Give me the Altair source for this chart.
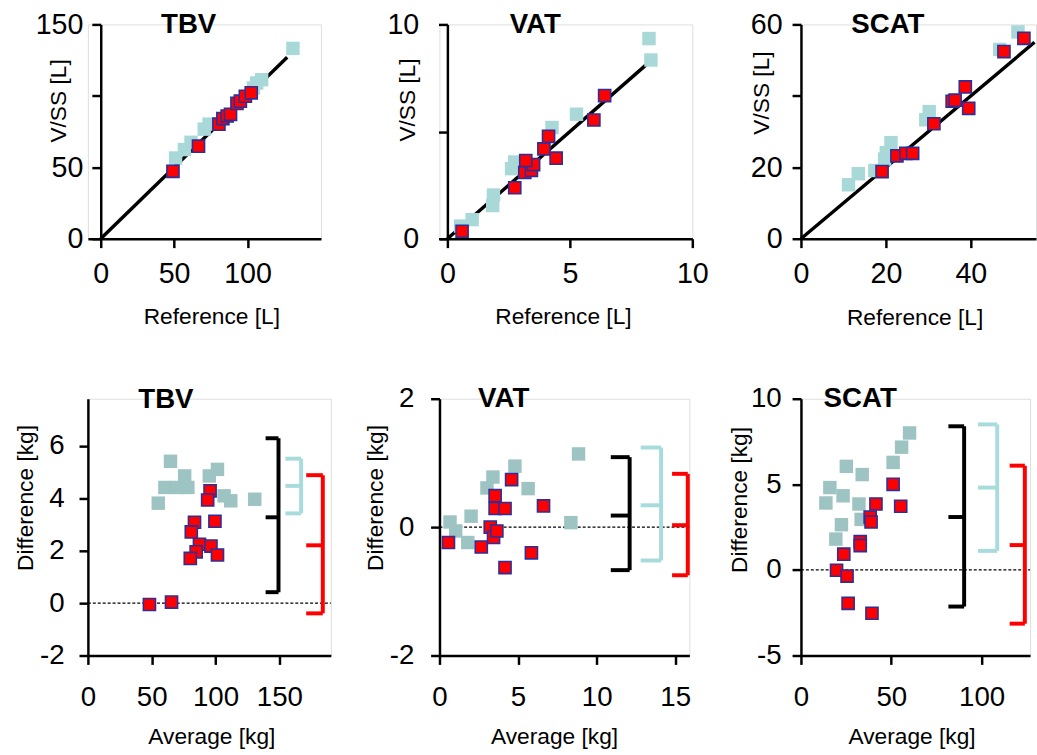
import altair as alt
import pandas as pd

FONT = "Liberation Sans"
LIGHT_TOP = "#A8D8D8"
LIGHT_BOT = "#9DC3C3"
BR_LIGHT = "#A8DCDC"
RED = "#FF0000"
EDGE = "#2E2E9A"

# ---------------- top row: VISS against reference volume [L] ----------------
tbv_ref_light = [51.0, 57.0, 61.5, 70.5, 73.8, 104.0, 106.2, 109.6, 130.9]
tbv_viss_light = [56.5, 62.4, 67.5, 76.7, 80.2, 105.5, 109.0, 111.3, 133.2]
tbv_ref_red = [49.2, 66.6, 80.5, 83.2, 86.1, 88.4, 92.8, 95.1, 98.5, 102.5]
tbv_viss_red = [47.2, 64.8, 80.2, 84.1, 85.9, 87.1, 94.7, 96.3, 99.7, 102.1]

vat_ref_light = [0.54, 1.01, 1.85, 1.88, 2.62, 2.75, 4.27, 5.27, 8.31, 8.23]
vat_viss_light = [0.59, 0.89, 1.55, 2.04, 3.27, 3.58, 5.19, 5.81, 8.34, 9.34]
vat_ref_red = [0.60, 2.75, 3.16, 3.43, 3.52, 3.20, 4.44, 3.94, 4.13, 5.98, 6.42]
vat_viss_red = [0.35, 2.38, 3.09, 3.19, 3.46, 3.65, 3.76, 4.19, 4.78, 5.54, 6.68]

scat_ref_light = [11.2, 13.5, 17.4, 19.7, 20.1, 21.2, 29.4, 30.2, 46.8, 51.1]
scat_viss_light = [15.1, 18.2, 19.1, 22.3, 24.1, 26.9, 33.3, 35.6, 53.0, 57.9]
scat_ref_red = [19.1, 22.6, 24.7, 26.3, 31.3, 35.6, 36.3, 39.5, 38.7, 47.8, 52.5]
scat_viss_red = [18.8, 23.2, 23.9, 23.9, 32.2, 38.5, 38.8, 36.5, 42.5, 52.4, 56.1]

# end point of each identity line
identity_end = {"TBV": 127.0, "VAT": 8.1, "SCAT": 55.0}

# ---------------- bottom row: Bland-Altman difference against average [kg] ----------------
ba_tbv_avg_light = [55.1, 60.3, 64.7, 69.4, 75.8, 78.3, 95.1, 101.5, 106.7, 111.9, 130.7]
ba_tbv_diff_light = [3.82, 4.42, 5.42, 4.42, 4.86, 4.42, 4.86, 5.11, 4.10, 3.91, 3.97]
ba_tbv_avg_red = [48.2, 65.5, 95.7, 93.8, 83.5, 99.5, 81.0, 87.4, 96.4, 84.8, 101.5, 80.2]
ba_tbv_diff_red = [-0.05, 0.04, 4.29, 3.94, 3.09, 3.13, 2.72, 2.25, 2.18, 1.96, 1.84, 1.71]

ba_vat_avg_light = [0.67, 1.03, 1.80, 2.01, 3.02, 3.40, 4.80, 5.64, 8.36, 8.85]
ba_vat_diff_light = [0.08, -0.06, -0.24, 0.17, 0.61, 0.78, 0.95, 0.60, 0.07, 1.14]
ba_vat_avg_red = [0.57, 2.66, 3.23, 3.44, 3.65, 3.54, 3.54, 4.17, 4.59, 4.17, 5.85, 6.62]
ba_vat_diff_red = [-0.24, -0.31, 0.00, -0.16, -0.06, 0.49, 0.29, 0.29, 0.74, -0.63, -0.40, 0.33]

ba_scat_avg_light = [60.1, 55.7, 51.0, 25.1, 33.9, 16.0, 23.3, 13.8, 32.1, 33.3, 22.4, 19.3]
ba_scat_diff_light = [8.00, 7.17, 6.28, 6.05, 5.57, 4.81, 4.33, 3.91, 3.85, 2.95, 2.64, 1.80]
ba_scat_avg_red = [51.0, 55.2, 41.5, 38.3, 38.8, 32.8, 32.8, 23.7, 19.7, 25.5, 26.1, 39.3]
ba_scat_diff_red = [5.00, 3.72, 3.85, 3.09, 2.80, 1.65, 1.42, 0.92, -0.02, -0.36, -1.95, -2.53]

# limits of agreement per group: (lower, mean, upper)
loa = {
    "TBV": {"all": (0.42, 3.28, 6.30), "light": (3.43, 4.48, 5.52), "red": (-0.39, 2.21, 4.89)},
    "VAT": {"all": (-0.67, 0.18, 1.09), "light": (-0.52, 0.34, 1.24), "red": (-0.75, 0.03, 0.83)},
    "SCAT": {"all": (-2.14, 3.09, 8.39), "light": (1.11, 4.81, 8.50), "red": (-3.14, 1.45, 6.09)},
}
# horizontal placement of each bracket on the average axis: (cap start, spine)
loa_x = {
    "TBV": {"all": (139.2, 149.3), "light": (154.7, 167.0), "red": (171.0, 184.0)},
    "VAT": {"all": (10.9, 12.1), "light": (12.8, 14.1), "red": (14.8, 15.8)},
    "SCAT": {"all": (81.6, 90.3), "light": (98.0, 108.6), "red": (115.5, 123.9)},
}
BR_COLORS = {"all": "black", "light": BR_LIGHT, "red": RED}


def make_axis(ticks, hide=None, **kw):
    # plain hyphen for negative numbers
    expr = "'' + datum.value"
    if hide is not None:
        expr = f"datum.value == {hide} ? '' : '' + datum.value"
    return alt.Axis(
        values=ticks, grid=False, domainColor="black", domainWidth=2.5,
        tickColor="black", tickWidth=2.5, tickSize=9, labelColor="black",
        labelFont=FONT, labelFlush=False, labelOverlap=False, labelExpr=expr,
        titleFont=FONT, titleFontSize=23, titleFontWeight="normal", titleColor="black",
        titleAlign="center", titleBaseline="middle", **kw,
    )


def panel(cfg, light_x, light_y, red_x, red_y, light_color):
    xs = alt.Scale(domain=cfg["xdom"], nice=False, zero=False)
    ys = alt.Scale(domain=cfg["ydom"], nice=False, zero=False)
    xa = make_axis(cfg["xticks"], labelFontSize=cfg["fs"], labelPadding=cfg["xpad"],
                   titleX=cfg["xt"][0], titleY=cfg["xt"][1])
    ya = make_axis(cfg["yticks"], hide=cfg.get("hide"), labelFontSize=cfg["fs"],
                   labelPadding=cfg["ypad"], offset=cfg.get("yoff", 0),
                   titleX=cfg["yt"][0], titleY=cfg["yt"][1], titleAngle=270)

    def X(f):
        return alt.X(f, type="quantitative", scale=xs, axis=xa, title=cfg["xtitle"])

    def Y(f):
        return alt.Y(f, type="quantitative", scale=ys, axis=ya, title=cfg["ytitle"])

    layers = []
    layers += cfg["extra"](X, Y)
    light = pd.DataFrame({"x": light_x, "y": light_y})
    red = pd.DataFrame({"x": red_x, "y": red_y})
    layers.append(alt.Chart(light).mark_square(size=185, color=light_color, opacity=1)
                  .encode(x=X("x"), y=Y("y")))
    layers.append(alt.Chart(red).mark_square(size=150, color=RED, opacity=1,
                                             stroke=EDGE, strokeWidth=1.6)
                  .encode(x=X("x"), y=Y("y")))
    return alt.layer(*layers).properties(
        width=cfg["w"], height=cfg["h"],
        title=alt.TitleParams(cfg["title"], anchor="start", frame="group", align="center",
                              dx=cfg["tx"], dy=cfg["ty"], offset=0, baseline="alphabetic",
                              font=FONT, fontSize=28, fontWeight="bold", color="black"),
    )


def identity(name):
    def build(X, Y):
        d = pd.DataFrame({"x": [0.0], "y": [0.0], "x2": [identity_end[name]],
                          "y2": [identity_end[name]]})
        return [alt.Chart(d).mark_rule(color="black", strokeWidth=3.5)
                .encode(x=X("x"), y=Y("y"), x2="x2", y2="y2")]
    return build


def brackets(name, xmax):
    def build(X, Y):
        zero = pd.DataFrame({"x": [0.0], "x2": [xmax], "y": [0.0]})
        out = [alt.Chart(zero).mark_rule(color="black", strokeWidth=1.3, strokeDash=[3, 2])
               .encode(x=X("x"), x2="x2", y=Y("y"))]
        for grp, (lo, mid, hi) in loa[name].items():
            cap0, spine = loa_x[name][grp]
            col = BR_COLORS[grp]
            v = pd.DataFrame({"x": [spine], "y": [lo], "y2": [hi]})
            h = pd.DataFrame({"x": [cap0] * 3, "x2": [spine] * 3, "y": [lo, mid, hi]})
            out.append(alt.Chart(v).mark_rule(color=col, strokeWidth=4)
                       .encode(x=X("x"), y=Y("y"), y2="y2"))
            out.append(alt.Chart(h).mark_rule(color=col, strokeWidth=4)
                       .encode(x=X("x"), x2="x2", y=Y("y")))
        return out
    return build


top_common = dict(h=217, fs=29, xpad=12, xtitle="Reference [L]", ytitle="V/SS [L]")
bot_common = dict(h=260, fs=28, xpad=20, xtitle="Average [kg]", ytitle="Difference [kg]")

p1 = panel(dict(top_common, title="TBV", w=236, xdom=[-8.72, 150], ydom=[0, 150],
                xticks=[0, 50, 100], yticks=[0, 50, 100, 150], hide=100, yoff=-13,
                ypad=9, tx=102, ty=51, xt=(125, 79), yt=(-43, 77), extra=identity("TBV")),
           tbv_ref_light, tbv_viss_light, tbv_ref_red, tbv_viss_red, LIGHT_TOP)
p2 = panel(dict(top_common, title="VAT", w=256, xdom=[-0.3226, 10], ydom=[0, 10],
                xticks=[0, 5, 10], yticks=[0, 5, 10], hide=5, yoff=-8,
                ypad=20, tx=97, ty=51, xt=(125, 79), yt=(-40, 76), extra=identity("VAT")),
           vat_ref_light, vat_viss_light, vat_ref_red, vat_viss_red, LIGHT_TOP)
p3 = panel(dict(top_common, title="SCAT", w=238, xdom=[0, 55.35], ydom=[0, 60],
                xticks=[0, 20, 40], yticks=[0, 20, 40, 60], hide=40,
                ypad=10, tx=88, ty=51, xt=(115, 80), yt=(-40, 69), extra=identity("SCAT")),
           scat_ref_light, scat_viss_light, scat_ref_red, scat_viss_red, LIGHT_TOP)
p4 = panel(dict(bot_common, title="TBV", w=246, xdom=[0, 190.3], ydom=[-2, 7.81],
                xticks=[0, 50, 100, 150], yticks=[-2, 0, 2, 4, 6],
                ypad=15, tx=79, ty=37, xt=(125, 82), yt=(-63, 100), extra=brackets("TBV", 190.3)),
           ba_tbv_avg_light, ba_tbv_diff_light, ba_tbv_avg_red, ba_tbv_diff_red, LIGHT_BOT)
p5 = panel(dict(bot_common, title="VAT", w=253, xdom=[0, 15.9], ydom=[-2, 2],
                xticks=[0, 5, 10, 15], yticks=[-2, 0, 2],
                ypad=17, tx=65, ty=50, xt=(116, 82), yt=(-65, 100), extra=brackets("VAT", 15.9)),
           ba_vat_avg_light, ba_vat_diff_light, ba_vat_avg_red, ba_vat_diff_red, LIGHT_BOT)
p6 = panel(dict(bot_common, title="SCAT", w=232, xdom=[0, 126.8], ydom=[-5, 10],
                xticks=[0, 50, 100], yticks=[-5, 0, 5, 10],
                ypad=11, tx=60, ty=50, xt=(112, 82), yt=(-62, 102), extra=brackets("SCAT", 126.8)),
           ba_scat_avg_light, ba_scat_diff_light, ba_scat_avg_red, ba_scat_diff_red, LIGHT_BOT)

chart = alt.concat(
    p1, p2, p3, p4, p5, p6, columns=3,
    spacing={"row": 162, "column": 110}, bounds="flush", align="none",
).properties(
    padding={"left": 14, "top": 5, "right": 0, "bottom": 0},
).configure_view(stroke=None).configure(font=FONT, background="white")

chart.save("out.html", embed_options={"renderer": "svg", "actions": False})
